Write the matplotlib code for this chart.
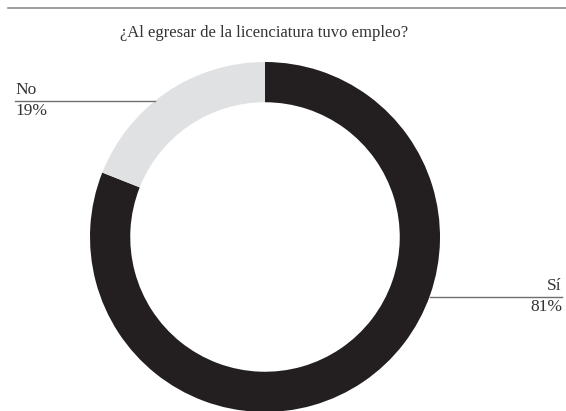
import matplotlib
matplotlib.use("Agg")
import matplotlib.pyplot as plt
from matplotlib.lines import Line2D

# datos del grafico
categorias = ["Sí", "No"]
porcentajes = [81, 19]
colores = ["#231f20", "#e0e1e3"]
titulo = "¿Al egresar de la licenciatura tuvo empleo?"

W, H = 566, 411
plt.rcParams["font.family"] = ["Liberation Serif", "DejaVu Serif"]

fig = plt.figure(figsize=(W / 100, H / 100), dpi=100)

# pie axes: centre (265, 237) px from top, radius 175 px
cx, cy, r = 265, 237, 175
ax = fig.add_axes([(cx - r) / W, (H - cy - r) / H, 2 * r / W, 2 * r / H])
ax.pie(porcentajes, colors=colores, startangle=90, counterclock=False,
       radius=1, wedgeprops=dict(width=0.23, linewidth=0))
ax.set_xlim(-1, 1)
ax.set_ylim(-1, 1)
ax.set_aspect("equal")
ax.axis("off")


def px(x, y):
    return x / W, 1 - y / H


# top rule
fig.add_artist(Line2D([8 / W, 1], [1 - 8.5 / H] * 2, color="#8c8c8c", lw=1.2))
fig.text(*px(264, 33), titulo, ha="center", va="center", fontsize=12, color="#333333")

# leader line "No"
fig.add_artist(Line2D([15 / W, 155 / W], [1 - 101 / H] * 2, color="#6e6e6e", lw=1))
fig.text(*px(15, 98), categorias[1], ha="left", va="bottom", fontsize=12.5, color="#333333")
fig.text(*px(15, 103), f"{porcentajes[1]}%", ha="left", va="top", fontsize=12.5, color="#333333")

# leader line "Sí"
fig.add_artist(Line2D([430 / W, 562 / W], [1 - 297 / H] * 2, color="#6e6e6e", lw=1))
fig.text(*px(562, 294), categorias[0], ha="right", va="bottom", fontsize=12.5, color="#333333")
fig.text(*px(562, 299), f"{porcentajes[0]}%", ha="right", va="top", fontsize=12.5, color="#333333")

fig.savefig("out.png", dpi=100)
